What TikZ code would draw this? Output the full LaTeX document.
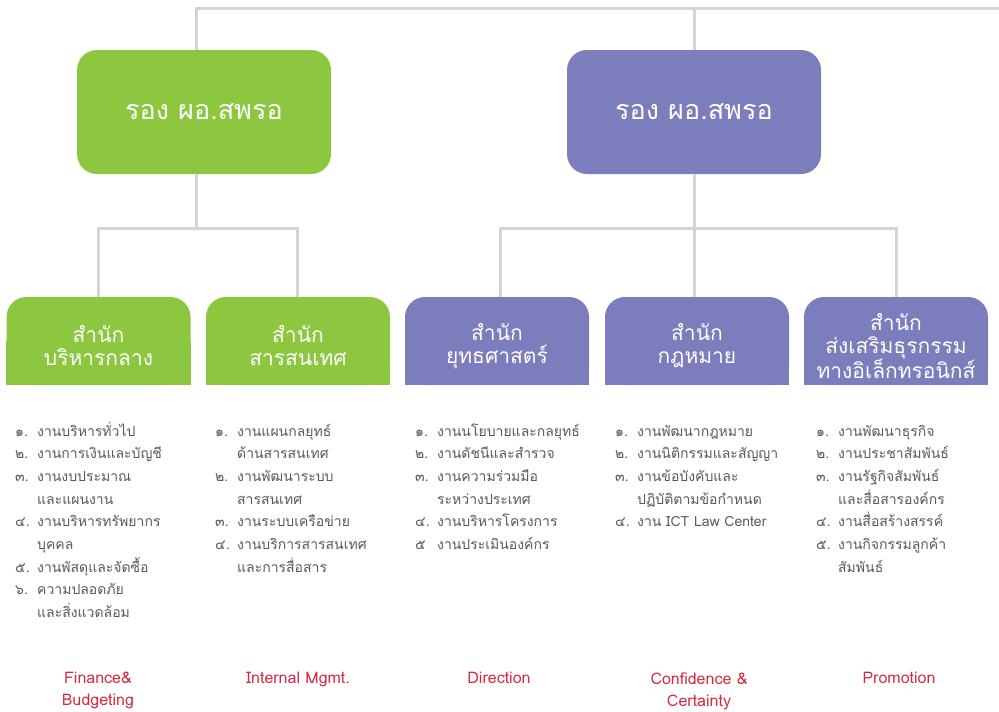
\documentclass[tikz,border=0pt]{standalone}
\usepackage{fontspec}
\setmainfont[Script=Thai]{Loma}

\definecolor{grn}{HTML}{8DC63F}
\definecolor{prp}{HTML}{7B7DBD}
\definecolor{lne}{HTML}{D4D4D4}
\definecolor{txt}{HTML}{58595B}
\definecolor{red}{HTML}{D42A3F}

\tikzset{
  head/.style={fill=#1, rounded corners=20pt, minimum width=254pt, minimum height=124pt,
    text=white, font=\fontsize{27}{30}\selectfont},
  office/.style={fill=#1, rounded corners=20pt, minimum width=184pt, minimum height=88pt},
  title/.style={text=white, align=center, inner sep=0pt, font=\fontsize{21}{23}\selectfont},
  conn/.style={draw=lne, line width=3pt},
  duty/.style={anchor=north west, inner sep=0pt, text=txt, font=\fontsize{14}{22.7}\selectfont},
  goal/.style={anchor=north, inner sep=0pt, align=center, text=red, font=\fontsize{16}{22}\selectfont}
}

\begin{document}
\begin{tikzpicture}[x=1pt,y=-1pt]
\useasboundingbox (0,0) rectangle (999,712);

% heads
\node [head=grn] (g0) at (204,112) {รอง ผอ.สพรอ};
\node [head=prp] (p0) at (694,112) {รอง ผอ.สพรอ};

% offices, flat at the bottom
\node [office=grn] (b1) at (98.5,341) {};
\node [office=grn] (b2) at (298,341) {};
\node [office=prp] (b3) at (497,341) {};
\node [office=prp] (b4) at (697,341) {};
\node [office=prp] (b5) at (896,341) {};
\foreach \n/\c in {b1/grn,b2/grn,b3/prp,b4/prp,b5/prp}
  \fill [\c] (\n.west) rectangle (\n.south east);

\node [title] (t1) at ([yshift=-5pt]b1.center) {สำนัก\\บริหารกลาง};
\node [title] (t2) at ([yshift=-5pt]b2.center) {สำนัก\\สารสนเทศ};
\node [title] (t3) at ([yshift=-5pt]b3.center) {สำนัก\\ยุทธศาสตร์};
\node [title] (t4) at ([yshift=-5pt]b4.center) {สำนัก\\กฎหมาย};
\node [title] (t5) at ([yshift=-5pt]b5.center) {สำนัก\\ส่งเสริมธุรกรรม\\ทางอิเล็กทรอนิกส์};

% connectors
\coordinate (topR) at (999,8);
\coordinate (gJ) at (196,228);
\coordinate (pJ) at (694,228);
\draw [conn] (gJ |- g0.north) |- (topR);
\draw [conn] (p0.north) -- (p0.north |- topR);
\draw [conn] (gJ |- g0.south) -- (gJ);
\draw [conn] (p0.south) -- (pJ);
\draw [conn] ([xshift=-0.5pt]b1.north) |- (gJ) -| ([xshift=-1pt]b2.north);
\draw [conn] ([xshift=3pt]b3.north) |- (pJ) -| (b5.north);
\draw [conn] (pJ) -- (pJ |- b4.north);

% duties
\node [duty] (d1) at (15,420) {\begin{tabular}{@{}p{22pt}@{}l@{}}
๑. & งานบริหารทั่วไป\\
๒. & งานการเงินและบัญชี\\
๓. & งานงบประมาณ\\
   & และแผนงาน\\
๔. & งานบริหารทรัพยากร\\
   & บุคคล\\
๕. & งานพัสดุและจัดซื้อ\\
๖. & ความปลอดภัย\\
   & และสิ่งแวดล้อม
\end{tabular}};
\node [duty] (d2) at (215,420) {\begin{tabular}{@{}p{22pt}@{}l@{}}
๑. & งานแผนกลยุทธ์\\
   & ด้านสารสนเทศ\\
๒. & งานพัฒนาระบบ\\
   & สารสนเทศ\\
๓. & งานระบบเครือข่าย\\
๔. & งานบริการสารสนเทศ\\
   & และการสื่อสาร
\end{tabular}};
\node [duty] (d3) at (415,420) {\begin{tabular}{@{}p{22pt}@{}l@{}}
๑. & งานนโยบายและกลยุทธ์\\
๒. & งานดัชนีและสำรวจ\\
๓. & งานความร่วมมือ\\
   & ระหว่างประเทศ\\
๔. & งานบริหารโครงการ\\
๕  & งานประเมินองค์กร
\end{tabular}};
\node [duty] (d4) at (615,420) {\begin{tabular}{@{}p{22pt}@{}l@{}}
๑. & งานพัฒนากฎหมาย\\
๒. & งานนิติกรรมและสัญญา\\
๓. & งานข้อบังคับและ\\
   & ปฏิบัติตามข้อกำหนด\\
๔. & งาน ICT Law Center
\end{tabular}};
\node [duty] (d5) at (816,420) {\begin{tabular}{@{}p{22pt}@{}l@{}}
๑. & งานพัฒนาธุรกิจ\\
๒. & งานประชาสัมพันธ์\\
๓. & งานรัฐกิจสัมพันธ์\\
   & และสื่อสารองค์กร\\
๔. & งานสื่อสร้างสรรค์\\
๕. & งานกิจกรรมลูกค้า\\
   & สัมพันธ์
\end{tabular}};

% goals
\node [goal] (e1) at (98,672) {Finance\&\\Budgeting};
\node [goal] (e2) at (298,672) {Internal Mgmt.};
\node [goal] (e3) at (499,672) {Direction};
\node [goal] (e4) at (699,672) {Confidence \&\\Certainty};
\node [goal] (e5) at (899,672) {Promotion};

\end{tikzpicture}
\end{document}
